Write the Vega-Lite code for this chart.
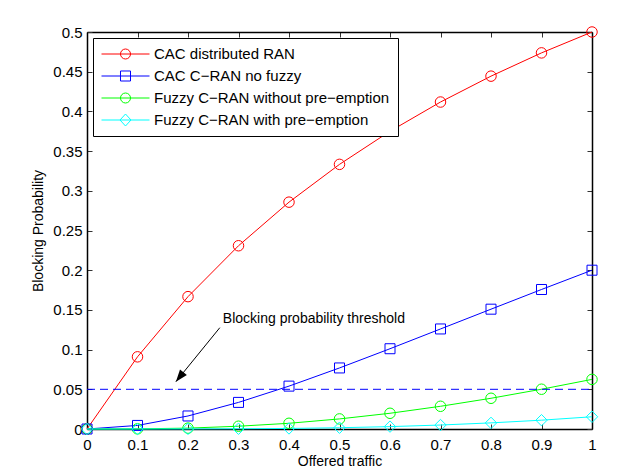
{
  "$schema": "https://vega.github.io/schema/vega-lite/v6.json",
  "width": 505,
  "height": 397,
  "autosize": {"type": "none"},
  "padding": {"left": 87, "top": 32, "right": 31, "bottom": 39},
  "background": "white",
  "config": {
    "font": "Liberation Sans",
    "view": {"stroke": null},
    "axis": {
      "grid": false,
      "domainColor": "black",
      "domainWidth": 1.5,
      "tickColor": "#333333",
      "tickSize": -5,
      "tickWidth": 1,
      "labelColor": "black",
      "labelFontSize": 15,
      "labelFont": "Liberation Sans",
      "titleFont": "Liberation Sans",
      "titleFontSize": 14,
      "titleFontWeight": "normal",
      "titleColor": "black"
    },
    "legend": {
      "labelFont": "Liberation Sans",
      "labelFontSize": 15,
      "labelColor": "black",
      "labelLimit": 0
    }
  },
  "datasets": {
    "curves": [
      {"x": 0, "p": 0, "series": "CAC distributed RAN"},
      {"x": 0.1, "p": 0.0909, "series": "CAC distributed RAN"},
      {"x": 0.2, "p": 0.1667, "series": "CAC distributed RAN"},
      {"x": 0.3, "p": 0.2308, "series": "CAC distributed RAN"},
      {"x": 0.4, "p": 0.2857, "series": "CAC distributed RAN"},
      {"x": 0.5, "p": 0.3333, "series": "CAC distributed RAN"},
      {"x": 0.6, "p": 0.375, "series": "CAC distributed RAN"},
      {"x": 0.7, "p": 0.4118, "series": "CAC distributed RAN"},
      {"x": 0.8, "p": 0.4444, "series": "CAC distributed RAN"},
      {"x": 0.9, "p": 0.4737, "series": "CAC distributed RAN"},
      {"x": 1, "p": 0.5, "series": "CAC distributed RAN"},
      {"x": 0, "p": 0, "series": "CAC C−RAN no fuzzy"},
      {"x": 0.1, "p": 0.0045, "series": "CAC C−RAN no fuzzy"},
      {"x": 0.2, "p": 0.0164, "series": "CAC C−RAN no fuzzy"},
      {"x": 0.3, "p": 0.0335, "series": "CAC C−RAN no fuzzy"},
      {"x": 0.4, "p": 0.054, "series": "CAC C−RAN no fuzzy"},
      {"x": 0.5, "p": 0.0769, "series": "CAC C−RAN no fuzzy"},
      {"x": 0.6, "p": 0.1011, "series": "CAC C−RAN no fuzzy"},
      {"x": 0.7, "p": 0.126, "series": "CAC C−RAN no fuzzy"},
      {"x": 0.8, "p": 0.1509, "series": "CAC C−RAN no fuzzy"},
      {"x": 0.9, "p": 0.1757, "series": "CAC C−RAN no fuzzy"},
      {"x": 1, "p": 0.2, "series": "CAC C−RAN no fuzzy"},
      {"x": 0, "p": 0, "series": "Fuzzy C−RAN without pre−emption"},
      {"x": 0.1, "p": 0.0002, "series": "Fuzzy C−RAN without pre−emption"},
      {"x": 0.2, "p": 0.0011, "series": "Fuzzy C−RAN without pre−emption"},
      {"x": 0.3, "p": 0.0035, "series": "Fuzzy C−RAN without pre−emption"},
      {"x": 0.4, "p": 0.0072, "series": "Fuzzy C−RAN without pre−emption"},
      {"x": 0.5, "p": 0.0127, "series": "Fuzzy C−RAN without pre−emption"},
      {"x": 0.6, "p": 0.0198, "series": "Fuzzy C−RAN without pre−emption"},
      {"x": 0.7, "p": 0.0286, "series": "Fuzzy C−RAN without pre−emption"},
      {"x": 0.8, "p": 0.0387, "series": "Fuzzy C−RAN without pre−emption"},
      {"x": 0.9, "p": 0.0501, "series": "Fuzzy C−RAN without pre−emption"},
      {"x": 1, "p": 0.0625, "series": "Fuzzy C−RAN without pre−emption"},
      {"x": 0, "p": 0, "series": "Fuzzy C−RAN with pre−emption"},
      {"x": 0.1, "p": 0.0, "series": "Fuzzy C−RAN with pre−emption"},
      {"x": 0.2, "p": 0.0001, "series": "Fuzzy C−RAN with pre−emption"},
      {"x": 0.3, "p": 0.0003, "series": "Fuzzy C−RAN with pre−emption"},
      {"x": 0.4, "p": 0.0007, "series": "Fuzzy C−RAN with pre−emption"},
      {"x": 0.5, "p": 0.0016, "series": "Fuzzy C−RAN with pre−emption"},
      {"x": 0.6, "p": 0.003, "series": "Fuzzy C−RAN with pre−emption"},
      {"x": 0.7, "p": 0.005, "series": "Fuzzy C−RAN with pre−emption"},
      {"x": 0.8, "p": 0.0077, "series": "Fuzzy C−RAN with pre−emption"},
      {"x": 0.9, "p": 0.0111, "series": "Fuzzy C−RAN with pre−emption"},
      {"x": 1, "p": 0.0154, "series": "Fuzzy C−RAN with pre−emption"}
    ],
    "threshold": [{"x0": 0, "x1": 1, "p": 0.05}],
    "note": [{"x": 0.269, "p": 0.1385, "label": "Blocking probability threshold", "ax": 0.263, "ap": 0.1276, "tx": 0.176, "tp": 0.0596}]
  },
  "resolve": {"axis": {"x": "independent", "y": "independent"}},
  "layer": [
    {
      "data": {"name": "curves"},
      "mark": {"type": "line", "strokeWidth": 1},
      "encoding": {
        "x": {"field": "x", "type": "quantitative", "scale": {"domain": [0, 1], "nice": false, "zero": false},
          "axis": {"orient": "bottom", "values": [0, 0.1, 0.2, 0.3, 0.4, 0.5, 0.6, 0.7, 0.8, 0.9, 1], "format": "~g", "title": "Offered traffic", "labelPadding": 13, "titlePadding": 2, "labelFlush": false}},
        "y": {"field": "p", "type": "quantitative", "scale": {"domain": [0, 0.5], "nice": false},
          "axis": {"orient": "left", "values": [0, 0.05, 0.1, 0.15, 0.2, 0.25, 0.3, 0.35, 0.4, 0.45, 0.5], "format": "~g", "title": "Blocking Probability", "labelPadding": 10, "titlePadding": 7, "labelFlush": false}},
        "color": {"field": "series", "type": "nominal",
          "scale": {"domain": ["CAC distributed RAN", "CAC C−RAN no fuzzy", "Fuzzy C−RAN without pre−emption", "Fuzzy C−RAN with pre−emption"], "range": ["#ff0000", "#0000ff", "#00ff00", "#00ffff"]},
          "legend": {"title": null, "orient": "top-left", "offset": 6, "symbolSize": 225, "symbolStrokeWidth": 1, "symbolOpacity": 1, "labelOffset": 37, "rowPadding": 6, "padding": 8, "strokeColor": "black", "fillColor": "white", "symbolFillColor": "transparent"}},
        "detail": {"field": "series"}
      }
    },
    {
      "data": {"name": "curves"},
      "transform": [{"filter": {"field": "series", "oneOf": ["CAC distributed RAN", "Fuzzy C−RAN without pre−emption"]}}],
      "mark": {"type": "point", "filled": false, "shape": "circle", "size": 110, "strokeWidth": 1, "opacity": 1},
      "encoding": {
        "x": {"field": "x", "type": "quantitative", "axis": null},
        "y": {"field": "p", "type": "quantitative", "axis": null},
        "color": {"field": "series", "type": "nominal"}
      }
    },
    {
      "data": {"name": "curves"},
      "transform": [{"filter": {"field": "series", "equal": "CAC C−RAN no fuzzy"}}],
      "mark": {"type": "point", "filled": false, "shape": "square", "size": 100, "strokeWidth": 1, "opacity": 1},
      "encoding": {
        "x": {"field": "x", "type": "quantitative", "axis": null},
        "y": {"field": "p", "type": "quantitative", "axis": null},
        "color": {"field": "series", "type": "nominal"}
      }
    },
    {
      "data": {"name": "curves"},
      "transform": [{"filter": {"field": "series", "equal": "Fuzzy C−RAN with pre−emption"}}],
      "mark": {"type": "point", "filled": false, "shape": "diamond", "size": 130, "strokeWidth": 1, "opacity": 1},
      "encoding": {
        "x": {"field": "x", "type": "quantitative", "axis": null},
        "y": {"field": "p", "type": "quantitative", "axis": null},
        "color": {"field": "series", "type": "nominal"}
      }
    },
    {
      "data": {"name": "threshold"},
      "mark": {"type": "rule", "color": "#0000ff", "strokeWidth": 1, "strokeDash": [8, 5]},
      "encoding": {
        "x": {"field": "x0", "type": "quantitative", "axis": null},
        "x2": {"field": "x1"},
        "y": {"field": "p", "type": "quantitative", "axis": null}
      }
    },
    {
      "data": {"name": "note"},
      "mark": {"type": "rule", "color": "black", "strokeWidth": 1},
      "encoding": {
        "x": {"field": "ax", "type": "quantitative", "axis": null},
        "y": {"field": "ap", "type": "quantitative", "axis": null},
        "x2": {"field": "tx"},
        "y2": {"field": "tp"}
      }
    },
    {
      "data": {"name": "note"},
      "mark": {"type": "point", "filled": true, "color": "black", "opacity": 1, "size": 16, "angle": 219, "shape": "M0,0L-2.2,6L2.2,6Z", "strokeWidth": 0},
      "encoding": {
        "x": {"field": "tx", "type": "quantitative", "axis": null},
        "y": {"field": "tp", "type": "quantitative", "axis": null}
      }
    },
    {
      "data": {"name": "note"},
      "mark": {"type": "text", "align": "left", "baseline": "middle", "fontSize": 14, "font": "Liberation Sans", "color": "black"},
      "encoding": {
        "x": {"field": "x", "type": "quantitative", "axis": null},
        "y": {"field": "p", "type": "quantitative", "axis": null},
        "text": {"field": "label"}
      }
    },
    {
      "data": {"name": "curves"},
      "mark": {"type": "point", "filled": false, "opacity": 0, "strokeWidth": 1},
      "encoding": {
        "x": {"field": "x", "type": "quantitative", "axis": {"orient": "top", "values": [0, 0.1, 0.2, 0.3, 0.4, 0.5, 0.6, 0.7, 0.8, 0.9, 1], "labels": false, "title": null}},
        "y": {"field": "p", "type": "quantitative", "axis": {"orient": "right", "values": [0, 0.05, 0.1, 0.15, 0.2, 0.25, 0.3, 0.35, 0.4, 0.45, 0.5], "labels": false, "title": null}},
        "color": {"field": "series", "type": "nominal"},
        "shape": {"field": "series", "type": "nominal",
          "scale": {"domain": ["CAC distributed RAN", "CAC C−RAN no fuzzy", "Fuzzy C−RAN without pre−emption", "Fuzzy C−RAN with pre−emption"],
            "range": [
              "M-1,0H5.4M2.867,0A0.667,0.667 0 1,1 1.533,0A0.667,0.667 0 1,1 2.867,0Z",
              "M-1,0H5.4M1.533,-0.667H2.867V0.667H1.533Z",
              "M-1,0H5.4M2.867,0A0.667,0.667 0 1,1 1.533,0A0.667,0.667 0 1,1 2.867,0Z",
              "M-1,0H5.4M2.2,-0.8L2.933,0L2.2,0.8L1.467,0Z"
            ]},
          "legend": {"title": null, "orient": "top-left", "offset": 6, "symbolSize": 225, "symbolStrokeWidth": 1, "symbolOpacity": 1, "labelOffset": 37, "rowPadding": 6, "padding": 8, "strokeColor": "black", "fillColor": "white", "symbolFillColor": "transparent"}}
      }
    }
  ]
}
